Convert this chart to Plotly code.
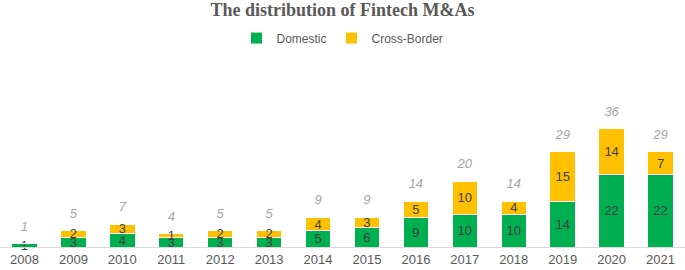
import plotly.graph_objects as go

years = ["2008", "2009", "2010", "2011", "2012", "2013", "2014", "2015", "2016", "2017", "2018", "2019", "2020", "2021"]
domestic = [1, 3, 4, 3, 3, 3, 5, 6, 9, 10, 10, 14, 22, 22]
cross_border = [0, 2, 3, 1, 2, 2, 4, 3, 5, 10, 4, 15, 14, 7]
totals = [1, 5, 7, 4, 5, 5, 9, 9, 14, 20, 14, 29, 36, 29]

fig = go.Figure()
fig.add_trace(go.Bar(
    x=years, y=domestic, name="Domestic", cliponaxis=False,
    marker=dict(color="#00B050", line=dict(color="white", width=1)),
    text=[str(v) for v in domestic], textposition="inside", insidetextanchor="middle", textangle=0,
    textfont=dict(color="#404040", size=13, family="Liberation Sans"),
))
fig.add_trace(go.Bar(
    x=years, y=cross_border, name="Cross-Border", cliponaxis=False,
    marker=dict(color="#FFC000", line=dict(color="white", width=1)),
    text=[str(v) if v else "" for v in cross_border], textposition="inside", insidetextanchor="middle", textangle=0,
    textfont=dict(color="#404040", size=13, family="Liberation Sans"),
))
fig.add_trace(go.Scatter(
    x=years, y=totals, mode="markers+text", text=[str(v) for v in totals],
    marker=dict(size=14, opacity=0), cliponaxis=False,
    textposition="top center", showlegend=False, hoverinfo="skip",
    textfont=dict(color="#A6A6A6", size=13, family="Liberation Sans", style="italic"),
))

fig.update_layout(
    width=685, height=270,
    barmode="stack", bargap=0.48,
    plot_bgcolor="white", paper_bgcolor="white",
    margin=dict(l=0, r=0, t=60, b=23, autoexpand=False),
    title=dict(text="<b>The distribution of Fintech M&As</b>", x=0.5, xanchor="center",
               yref="container", y=0.963, yanchor="middle",
               font=dict(family="Liberation Serif", size=18, color="#595959")),
    legend=dict(orientation="h", x=0.5, xanchor="center", yref="container", y=0.859, yanchor="middle",
                font=dict(family="Liberation Sans", size=12, color="#595959"), traceorder="normal",
                itemwidth=30),
    uniformtext=dict(minsize=13, mode="show"),
    xaxis=dict(showline=True, linecolor="#D9D9D9", linewidth=1, ticks="", showgrid=False, automargin=False,
               range=[-0.5, 13.5],
               tickfont=dict(family="Liberation Sans", size=13, color="#595959")),
    yaxis=dict(visible=False, range=[0, 57], showgrid=False, zeroline=False, automargin=False),
)

fig.write_html("out.html", config={"displayModeBar": False},
               post_script="document.body.style.margin='0';")
